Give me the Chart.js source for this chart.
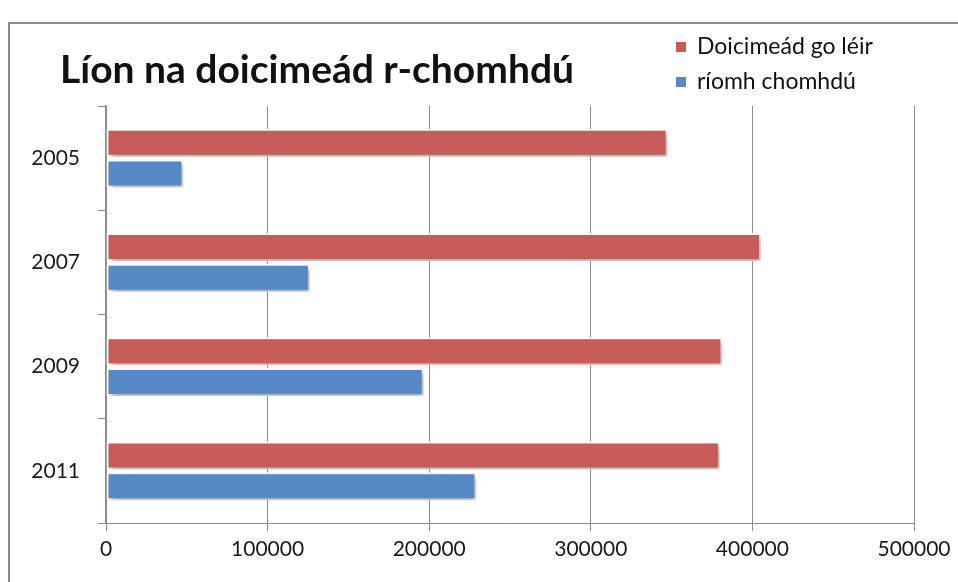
<!DOCTYPE html>
<html>
<head>
<meta charset="utf-8">
<script src="https://cdn.jsdelivr.net/npm/chart.js@4/dist/chart.umd.min.js"></script>
<style>
  html, body { margin: 0; padding: 0; background: #fff; }
  #wrap { position: relative; width: 958px; height: 582px; overflow: hidden; font-family: Lato, "Open Sans", sans-serif; color: #111; }
  #frame { position: absolute; left: 8px; top: 22px; width: 1000px; height: 1000px; border-left: 2px solid #8a8a8a; border-top: 2px solid #8a8a8a; }
  #title { position: absolute; left: 60px; top: 45px; font-size: 39px; font-weight: bold; white-space: nowrap; }
  #legend { position: absolute; left: 676px; top: 28px; font-size: 23px; line-height: 35px; }
  #legend .sw { display: inline-block; width: 10px; height: 10px; margin-right: 11px; vertical-align: 2px; }
  canvas { position: absolute; left: 0; top: 0; }
</style>
</head>
<body>
<div id="wrap">
  <div id="frame"></div>
  <canvas id="c" width="958" height="582"></canvas>
  <div id="title">Líon na doicimeád r-chomhdú</div>
  <div id="legend"></div>
</div>
<script>
const categories = ['2005', '2007', '2009', '2011'];
const seriesNames = ['Doicimeád go léir', 'ríomh chomhdú'];
const allDocs = [347500, 405300, 381400, 380000];
const eFiled = [47900, 126200, 196600, 229200];
const xTicks = [0, 100000, 200000, 300000, 400000, 500000];
const colors = ['#C65B58', '#5689C5'];

const gridGray = '#8c8c8c';
const tickFont = { family: 'Lato', size: 21 };

// soft drop shadow under the bars, like the office chart
const barShadow = {
  id: 'barShadow',
  beforeDatasetsDraw(chart) {
    const ctx = chart.ctx;
    ctx.save();
    ctx.shadowColor = 'rgba(0,0,0,0.35)';
    ctx.shadowBlur = 5;
    ctx.shadowOffsetX = 2;
    ctx.shadowOffsetY = 3;
  },
  afterDatasetsDraw(chart) { chart.ctx.restore(); }
};

const chart = new Chart(document.getElementById('c'), {
  type: 'bar',
  data: {
    labels: categories,
    datasets: [
      { label: seriesNames[0], data: allDocs, backgroundColor: colors[0] },
      { label: seriesNames[1], data: eFiled, backgroundColor: colors[1] },
    ].map(d => Object.assign(d, {
      borderColor: '#ffffff', borderWidth: 2, borderSkipped: false,
      categoryPercentage: 0.59, barPercentage: 0.91,
    })),
  },
  options: {
    indexAxis: 'y',
    responsive: false,
    animation: false,
    layout: { padding: { top: 106, right: 44, left: 0, bottom: 0 } },
    plugins: { legend: { display: false }, title: { display: false }, tooltip: { enabled: false } },
    scales: {
      x: {
        min: 0, max: 500000,
        afterBuildTicks: s => { s.ticks = xTicks.map(v => ({ value: v })); },
        afterFit: s => { s.height = 59; },
        grid: { color: gridGray, lineWidth: 1, tickLength: 8, drawTicks: true },
        border: { color: gridGray, width: 1 },
        ticks: { font: tickFont, color: '#1a1a1a', padding: 6, maxRotation: 0, callback: v => String(v) },
      },
      y: {
        afterFit: s => { s.width = 106; },
        grid: { display: true, drawOnChartArea: false, color: gridGray, tickLength: 8, offset: true },
        border: { color: gridGray, width: 1.5 },
        ticks: { font: tickFont, color: '#1a1a1a', padding: 18 },
      },
    },
  },
  plugins: [barShadow],
});

// legend on the right, built from the same series
const leg = document.getElementById('legend');
seriesNames.forEach((name, i) => {
  const row = document.createElement('div');
  const sw = document.createElement('span');
  sw.className = 'sw';
  sw.style.background = colors[i];
  row.appendChild(sw);
  row.appendChild(document.createTextNode(name));
  leg.appendChild(row);
});
</script>
</body>
</html>
